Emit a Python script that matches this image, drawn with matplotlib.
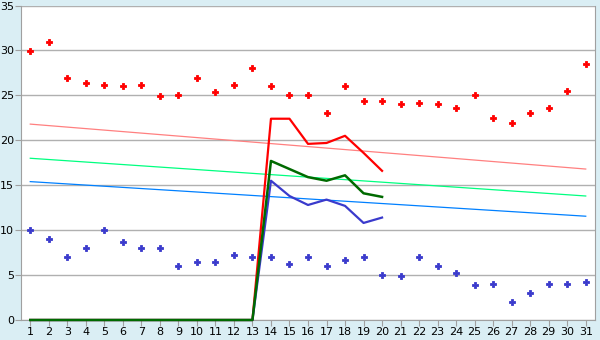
import matplotlib
matplotlib.use('Agg')
import matplotlib.pyplot as plt

days = list(range(1, 32))

# scatter series
red_pts = [29.9, 30.9, 26.9, 26.4, 26.2, 26.0, 26.2, 24.9, 25.0, 26.9, 25.4, 26.2, 28.0, 26.0, 25.0,
           25.0, 23.0, 26.0, 24.4, 24.4, 24.0, 24.2, 24.0, 23.6, 25.0, 22.5, 21.9, 23.0, 23.6, 25.5, 28.5]
blue_pts = [10.0, 9.0, 7.0, 8.0, 10.0, 8.7, 8.0, 8.0, 6.0, 6.4, 6.4, 7.2, 7.0, 7.0, 6.2,
            7.0, 6.0, 6.7, 7.0, 5.0, 4.9, 7.0, 6.0, 5.2, 3.9, 4.0, 2.0, 3.0, 4.0, 4.0, 4.2]

# line series (days 1..20)
line_days = list(range(1, 21))
red_line = [0] * 13 + [22.4, 22.4, 19.6, 19.7, 20.5, 18.6, 16.6]
green_line = [0] * 13 + [17.7, 16.8, 15.9, 15.5, 16.1, 14.1, 13.7]
blue_line = [0] * 13 + [15.5, 13.8, 12.8, 13.4, 12.7, 10.8, 11.4]

# trend lines (value at day 1 and day 31)
trend_days = [1, 31]
red_trend = [21.8, 16.8]
green_trend = [18.0, 13.8]
blue_trend = [15.4, 11.55]

bg = '#daeef4'
fig = plt.figure(figsize=(6, 3.4), dpi=100, facecolor=bg)
ax = fig.add_axes([21 / 600, 1 - 320 / 340, 574 / 600, 314.5 / 340])
ax.set_facecolor('white')

ax.set_ylim(0, 35)
ax.set_xlim(0.5, 31.5)
ax.set_yticks(range(0, 36, 5))
ax.set_xticks(days)
ax.grid(axis='y', color='#b0b0b0', linewidth=1)
ax.set_axisbelow(True)

ax.plot(trend_days, red_trend, color='#ff8080', lw=0.9)
ax.plot(trend_days, green_trend, color='#00ff80', lw=0.9)
ax.plot(trend_days, blue_trend, color='#0080ff', lw=0.9)

ax.plot(line_days, red_line, color='#ff0000', lw=1.6, clip_on=False, zorder=3)
ax.plot(line_days, blue_line, color='#3a3acc', lw=1.6, clip_on=False, zorder=3)
ax.plot(line_days, green_line, color='#006a00', lw=1.8, clip_on=False, zorder=4)

ax.plot(days, red_pts, ls='none', marker='P', ms=4.5, color='#ff0000', mew=0.6, zorder=5)
ax.plot(days, blue_pts, ls='none', marker='P', ms=4.5, color='#3a3acc', mew=0.6, zorder=5)

for s in ax.spines.values():
    s.set_color('#a0a0a0')
ax.spines['top'].set_visible(False)
ax.tick_params(colors='#a0a0a0', labelcolor='#000000', labelsize=8, length=4, pad=1)

fig.savefig('out.png', dpi=100, facecolor=bg)
